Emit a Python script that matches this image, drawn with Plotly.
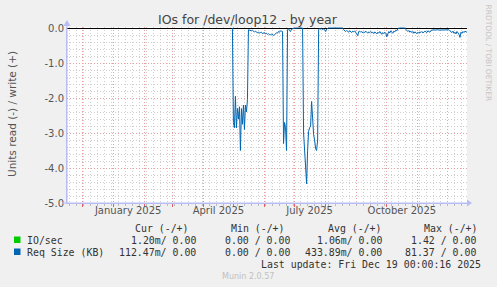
import pandas as pd
import plotly.graph_objects as go

# ---------------- data ----------------
series_start = "2025-04-30"   # first daily sample shown for Req Size (read side)
# Req Size (KB), read side drawn negative, one value per day
seg_may = [0.0, -2.7, -2.85, -1.95, -2.85, -2.3, -2.6, -2.25, -3.5, -2.3, -2.75,
           -2.2, -2.9, -2.2, -2.4, -2.05, -0.05]
seg_june = [-0.06, -0.07, -0.08, -0.06, -0.1, -0.12, -0.09, -0.13, -0.14, -0.11,
            -0.15, -0.13, -0.12, -0.16, -0.14, -0.13, -0.17, -0.15, -0.18, -0.16,
            -0.19, -0.2, -0.17, -0.18, -0.21, -0.19, -0.16, -0.14, -0.15, -0.1,
            -0.12, -0.08, -0.09, -0.1]
seg_june_spike = [-3.3, -2.7, -2.85, -3.5, -0.05]
seg_early_july = [-0.02, -0.08, -0.1, -0.03, -0.02, 0.0, 0.0, 0.0, 0.0, 0.0,
                  0.0, 0.0, 0.0, 0.0, 0.0]
seg_july_spike = [-3.0, -3.6, -4.1, -4.45, -3.5, -2.95, -2.85, -2.8, -2.1, -2.7,
                  -3.05, -3.2, -3.45, -3.5, -3.2, -0.05]
seg_late_july = [-0.02, -0.03, -0.02, -0.04, -0.03, -0.05, -0.1, -0.03, 0.0,
                 0.0, 0.0, 0.0, 0.0, 0.0, 0.0, 0.0, 0.0, 0.0, 0.0, 0.0, 0.0, 0.0, 0.0, 0.0]
seg_aug_oct = [-0.05, -0.08, -0.1, -0.07, -0.09, -0.12, -0.08, -0.1, -0.13, -0.09,
               -0.11, -0.08, -0.12, -0.15, -0.22, -0.1, -0.09, -0.12, -0.1, -0.14,
               -0.11, -0.13, -0.09, -0.12, -0.15, -0.11, -0.13, -0.1, -0.14, -0.12,
               -0.16, -0.11, -0.13, -0.17, -0.12, -0.15, -0.1, -0.14, -0.18, -0.13,
               -0.16, -0.12, -0.15, -0.25, -0.13, -0.1, -0.14, -0.08, -0.12, -0.15,
               -0.09, -0.11, -0.06, -0.08, -0.02]
seg_oct_gap = [0.0, 0.0, 0.0, 0.0, 0.0, 0.0, 0.0]
seg_oct_nov = [-0.04, -0.08, -0.1, -0.07, -0.12, -0.09, -0.13, -0.1, -0.15, -0.11,
               -0.14, -0.16, -0.12, -0.15, -0.11, -0.13, -0.1, -0.14, -0.12, -0.09,
               -0.11, -0.13, -0.08, -0.1, -0.12, -0.07, -0.06, -0.05]
seg_nov_flat = [-0.05, -0.06, -0.05, -0.06, -0.05, -0.06, -0.06, -0.05, -0.06,
                -0.05, -0.06, -0.05, -0.06, -0.05, -0.06, -0.05]
seg_dec = [-0.08, -0.1, -0.13, -0.09, -0.15, -0.12, -0.17, -0.1, -0.14, -0.18,
           -0.27, -0.12, -0.15, -0.1, -0.13, -0.09, -0.11, -0.12]

req_size_read = (seg_may + seg_june + seg_june_spike + seg_early_july + seg_july_spike
                 + seg_late_july + seg_aug_oct + seg_oct_gap + seg_oct_nov
                 + seg_nov_flat + seg_dec)
dates = pd.date_range(series_start, periods=len(req_size_read), freq="D")

x_range = ["2024-11-16", "2025-12-20"]
month_starts = pd.date_range("2024-12-01", "2025-12-01", freq="MS")
week_lines = pd.date_range("2024-11-18", "2025-12-19", freq="7D")
label_dates = ["2025-01-16", "2025-04-16", "2025-07-16", "2025-10-16"]
label_text = ["January 2025", "April 2025", "July 2025", "October 2025"]

y_ticks = [0, -1, -2, -3, -4, -5]
y_tick_text = ["0.0", "-1.0", "-2.0", "-3.0", "-4.0", "-5.0"]

legend_header = ["Cur (-/+)", "Min (-/+)", "Avg (-/+)", "Max (-/+)"]
legend_rows = [
    ("IO/sec", "#00cc00", ["1.20m/ 0.00", "0.00 / 0.00", "1.06m/ 0.00", "1.42 / 0.00"]),
    ("Req Size (KB)", "#0066b3", ["112.47m/ 0.00", "0.00 / 0.00", "433.89m/ 0.00", "81.37 / 0.00"]),
]
last_update = "Last update: Fri Dec 19 00:00:16 2025"

# ---------------- geometry helpers ----------------
W, H = 497, 287
L, R, T, B = 67, 467, 27, 203


def px(x):
    return (x - L) / (R - L)


def py(y):
    return (B - y) / (B - T)


SANS = "DejaVu Sans"
MONO = "DejaVu Sans Mono"
GRAY = "#555555"
MAJ = "#e8a0a0"
MIN = "#cfcfcf"
AXIS = "#b8bcf4"

fig = go.Figure()
fig.add_trace(go.Scatter(x=dates, y=req_size_read, mode="lines",
                         line=dict(color="#0066b3", width=1),
                         showlegend=False, hoverinfo="skip"))
# invisible trace to carry the label axis
fig.add_trace(go.Scatter(x=dates, y=req_size_read, mode="lines", xaxis="x2",
                         line=dict(width=0), opacity=0,
                         showlegend=False, hoverinfo="skip"))

fig.update_layout(
    width=W, height=H,
    margin=dict(l=L, r=W - R, t=T, b=H - B),
    paper_bgcolor="#f0f0f0", plot_bgcolor="#ffffff",
    showlegend=False,
    xaxis=dict(
        type="date", range=x_range,
        tickmode="array", tickvals=month_starts, ticktext=[""] * len(month_starts),
        showgrid=True, gridcolor=MAJ, griddash="1px,2px", gridwidth=1,
        ticks="outside", ticklen=3, tickcolor="#e06060", tickwidth=1,
        showline=True, linecolor=AXIS, linewidth=1,
        zeroline=False,
        minor=dict(tickmode="array", tickvals=week_lines, showgrid=True,
                   gridcolor=MIN, griddash="1px,2px", gridwidth=1,
                   ticks="outside", ticklen=2, tickcolor="#bbbbbb"),
    ),
    xaxis2=dict(
        type="date", range=x_range, overlaying="x", anchor="y", side="bottom",
        tickmode="array", tickvals=label_dates, ticktext=label_text,
        showgrid=False, ticks="", showline=False, zeroline=False,
        tickfont=dict(family=SANS, size=10, color=GRAY),
    ),
    yaxis=dict(
        range=[-5, 5 / 175],
        tickmode="array", tickvals=y_ticks, ticktext=y_tick_text,
        tickfont=dict(family=SANS, size=10, color=GRAY),
        showgrid=True, gridcolor=MAJ, griddash="1px,2px", gridwidth=1,
        zeroline=True, zerolinecolor="#000000", zerolinewidth=1,
        showline=True, linecolor=AXIS, linewidth=1,
        ticks="", 
        minor=dict(dtick=0.2, showgrid=True, gridcolor=MIN,
                   griddash="1px,2px", gridwidth=1),
    ),
)

ann = []
ann.append(dict(x=px(248), y=py(19), text="IOs for /dev/loop12 - by year",
                font=dict(family=SANS, size=12.5, color="#444444")))
ann.append(dict(x=px(12), y=py(114), text="Units read (-) / write (+)", textangle=-90,
                font=dict(family=SANS, size=10.5, color=GRAY)))
ann.append(dict(x=px(488.5), y=py(53), text="RRDTOOL / TOBI OETIKER", textangle=90,
                font=dict(family=SANS, size=7.5, color="#c4c4c4")))
ann.append(dict(x=px(248), y=py(276), text="Munin 2.0.57",
                font=dict(family=SANS, size=8, color="#c0c0c0")))

header_left = [134, 230, 327, 423]
col_right = [197, 291, 383, 477]
for h, xl in zip(legend_header, header_left):
    ann.append(dict(x=px(xl), y=py(228), text=h, xanchor="left",
                    font=dict(family=MONO, size=9.9, color="#333333")))
row_y = [240, 252]
shapes = []
for (name, color, vals), yy in zip(legend_rows, row_y):
    ann.append(dict(x=px(26), y=py(yy), text=name, xanchor="left",
                    font=dict(family=MONO, size=9.9, color="#333333")))
    for v, xr in zip(vals, col_right):
        ann.append(dict(x=px(xr), y=py(yy), text=v, xanchor="right",
                        font=dict(family=MONO, size=9.9, color="#333333")))
    shapes.append(dict(type="rect", xref="paper", yref="paper",
                       x0=px(14), x1=px(20.5), y0=py(yy - 3.5), y1=py(yy + 3),
                       fillcolor=color, line=dict(width=0)))
ann.append(dict(x=px(482), y=py(264), text=last_update, xanchor="right",
                font=dict(family=MONO, size=9.9, color="#333333")))

for a in ann:
    a.setdefault("xanchor", "center")
    a.update(xref="paper", yref="paper", showarrow=False, yanchor="middle", borderpad=0)

# axis arrowheads
shapes.append(dict(type="path", xref="paper", yref="paper", line=dict(width=0), fillcolor=AXIS,
                   path=f"M {px(467)},{py(199.5)} L {px(472)},{py(203)} L {px(467)},{py(206.5)} Z"))
shapes.append(dict(type="path", xref="paper", yref="paper", line=dict(width=0), fillcolor=AXIS,
                   path=f"M {px(63.5)},{py(26)} L {px(67)},{py(20)} L {px(70.5)},{py(26)} Z"))
# axis line extensions (rrdtool draws axes slightly past the plot)
shapes.append(dict(type="line", xref="paper", yref="paper", line=dict(color=AXIS, width=1),
                   x0=px(62), x1=px(467), y0=py(203), y1=py(203)))
shapes.append(dict(type="line", xref="paper", yref="paper", line=dict(color=AXIS, width=1),
                   x0=px(67), x1=px(67), y0=py(203), y1=py(25)))

fig.update_layout(annotations=ann, shapes=shapes)
fig.write_html("out.html")
